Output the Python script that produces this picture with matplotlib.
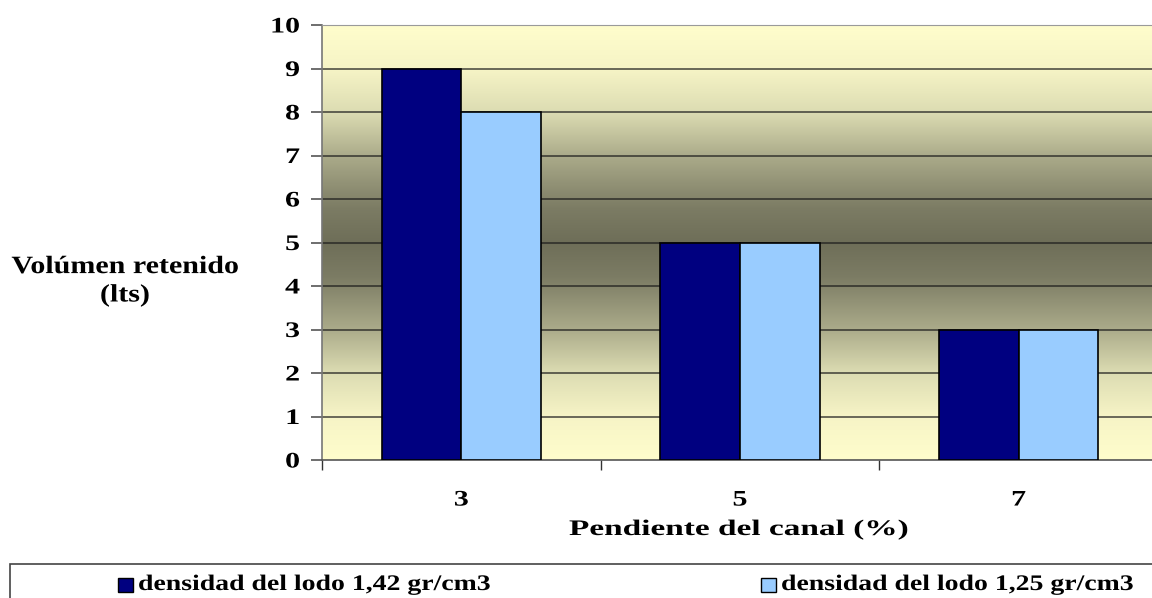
import numpy as np
import matplotlib
matplotlib.use("Agg")
import matplotlib.pyplot as plt
from matplotlib.colors import LinearSegmentedColormap
from matplotlib.patches import Rectangle
from matplotlib.patheffects import AbstractPathEffect
from matplotlib.transforms import Affine2D

# Data
categories = ["3", "5", "7"]
series_labels = ["densidad del lodo 1,42 gr/cm3", "densidad del lodo 1,25 gr/cm3"]
dens_142 = [9, 5, 3]
dens_125 = [8, 5, 3]
series_values = [dens_142, dens_125]
series_colors = ["#000080", "#99CCFF"]
y_ticks = list(range(0, 11))


class HStretch(AbstractPathEffect):
    """Widen glyphs horizontally about the left, centre or right of each line."""

    def __init__(self, sx, anchor="center"):
        super().__init__()
        self.sx = sx
        self.anchor = anchor

    def draw_path(self, renderer, gc, tpath, affine, rgbFace=None):
        ext = tpath.get_extents()
        if self.anchor == "center":
            cx = (ext.x0 + ext.x1) / 2
        elif self.anchor == "right":
            cx = ext.x1
        else:
            cx = 0.0
        tr = Affine2D().translate(-cx, 0).scale(self.sx, 1).translate(cx, 0) + affine
        renderer.draw_path(gc, tpath, tr, rgbFace)


plt.rcParams["font.family"] = ["Liberation Serif", "DejaVu Serif"]
plt.rcParams["font.weight"] = "bold"

fig = plt.figure(figsize=(11.52, 5.98), dpi=100)
W, H = 1152, 598
ax = fig.add_axes([322 / W, (H - 460) / H, 836 / W, 435 / H])

ax.set_xlim(-0.5, len(categories) - 0.5)
ax.set_ylim(0, 10)

# Vertical background gradient: pale yellow at the edges, dark olive in the middle
grad_stops = [
    (0.00, "#FFFDCC"),
    (0.10, "#F6F4C6"),
    (0.20, "#DCDCB2"),
    (0.30, "#ABAB8A"),
    (0.42, "#7C7C64"),
    (0.50, "#6E6E58"),
    (0.58, "#7C7C64"),
    (0.70, "#ABAB8A"),
    (0.80, "#DCDCB2"),
    (0.90, "#F6F4C6"),
    (1.00, "#FFFDCC"),
]
cmap = LinearSegmentedColormap.from_list("bg", grad_stops)
grad = np.linspace(0, 1, 512).reshape(-1, 1)
ax.imshow(grad, aspect="auto", cmap=cmap, extent=(-0.5, len(categories) - 0.5, 0, 10),
          origin="lower", zorder=0, interpolation="bicubic")

# Gridlines
for yv in y_ticks[1:]:
    ax.axhline(yv, color="#1a1a1a", lw=1.2, alpha=0.75, zorder=1)

x = np.arange(len(categories))
bw = 0.286
offsets = [-bw / 2, bw / 2]
for vals, col, off, lab in zip(series_values, series_colors, offsets, series_labels):
    ax.bar(x + off, vals, width=bw, color=col, edgecolor="black", linewidth=1.2,
           zorder=3, label=lab)

ax.set_yticks(y_ticks)
ax.set_yticklabels([str(v) for v in y_ticks], fontsize=16, fontweight="bold",
                   path_effects=[HStretch(1.35, "right")])
ax.set_xticks(x)
ax.set_xticklabels(categories, fontsize=16, fontweight="bold",
                   path_effects=[HStretch(1.35, "center")])
ax.set_xticks(np.arange(-0.5, len(categories) + 0.5, 1), minor=True)
ax.tick_params(axis="x", which="major", length=0, pad=22)
ax.tick_params(axis="x", which="minor", length=7, width=1, color="#333333", direction="out")
ax.tick_params(axis="y", length=8, width=1.2, color="#555555", direction="out", pad=8)

ax.spines["right"].set_visible(False)
ax.spines["top"].set_color("#9a9a9a")
ax.spines["left"].set_color("#777777")
ax.spines["bottom"].set_color("#555555")
ax.spines["left"].set_linewidth(1.2)
ax.spines["bottom"].set_linewidth(1.2)

# Axis titles
fig.text(125 / W, 1 - 281 / H, "Volúmen retenido\n(lts)", ha="center", va="center",
         fontsize=18, fontweight="bold", linespacing=1.3,
         path_effects=[HStretch(1.2, "center")])
fig.text(739 / W, 1 - 530 / H, "Pendiente del canal (%)", ha="center", va="center",
         fontsize=16, fontweight="bold", path_effects=[HStretch(1.5, "center")])

# Legend box along the bottom
fig.patches.append(Rectangle((10 / W, -0.05), 1.2, (H - 564) / H + 0.05,
                             transform=fig.transFigure, facecolor="white",
                             edgecolor="#444444", linewidth=1.2, zorder=1))
legend_x = [118, 761]
for lx, col, lab in zip(legend_x, series_colors, series_labels):
    fig.patches.append(Rectangle((lx / W, 1 - 592 / H), 15 / W, 14 / H,
                                 transform=fig.transFigure, facecolor=col,
                                 edgecolor="black", linewidth=1, zorder=2))
    fig.text((lx + 20) / W, 1 - 585 / H, lab, ha="left", va="center",
             fontsize=16, fontweight="bold", zorder=3,
             path_effects=[HStretch(1.25, "left")])

fig.savefig("out.png", dpi=100)
